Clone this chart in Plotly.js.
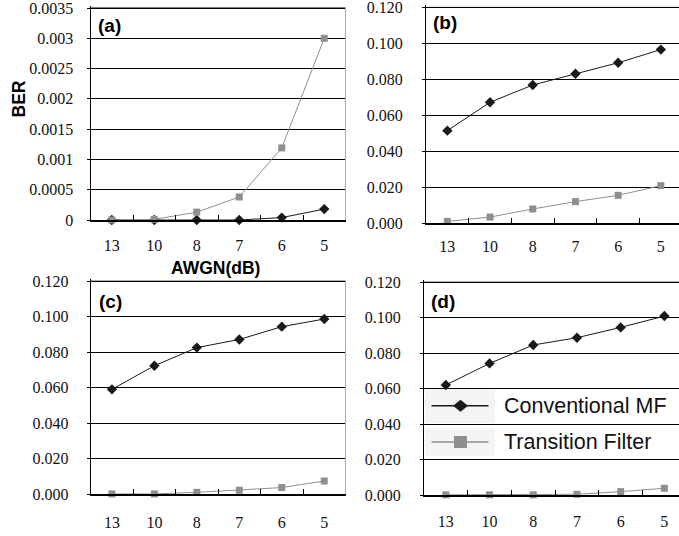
<!DOCTYPE html>
<html>
<head>
<meta charset="utf-8">
<script src="https://cdn.plot.ly/plotly-3.0.1.min.js"></script>
<style>html,body{margin:0;padding:0;background:#fff;}#chart{width:679px;height:536px;}</style>
</head>
<body>
<div id="chart"></div>
<script>
// ---- data ----
const categories = ["13", "10", "8", "7", "6", "5"];
const seriesNames = ["Conventional MF", "Transition Filter"];
const panelLabels = ["(a)", "(b)", "(c)", "(d)"];

const convA = [0, 0, 0, 0, 0.00004, 0.00018];
const transA = [0, 0.00001, 0.00013, 0.00038, 0.00119, 0.0030];
const convB = [0.0514, 0.0672, 0.0768, 0.0831, 0.0892, 0.0965];
const transB = [0.0009, 0.0033, 0.0078, 0.0119, 0.0154, 0.0208];
const convC = [0.0591, 0.0724, 0.0826, 0.0872, 0.0944, 0.0987];
const transC = [0.0002, 0.0002, 0.0011, 0.0023, 0.0038, 0.0075];
const convD = [0.0620, 0.0742, 0.0846, 0.0887, 0.0945, 0.1009];
const transD = [0.0001, 0.0001, 0.0001, 0.0004, 0.0019, 0.0038];

const yTicksA = [0, 0.0005, 0.001, 0.0015, 0.002, 0.0025, 0.003, 0.0035];
const yTickTextA = ["0", "0.0005", "0.001", "0.0015", "0.002", "0.0025", "0.003", "0.0035"];
const yTicksBCD = [0, 0.02, 0.04, 0.06, 0.08, 0.10, 0.12];
const yTickTextBCD = ["0.000", "0.020", "0.040", "0.060", "0.080", "0.100", "0.120"];

const xTitle = "AWGN(dB)";
const yTitle = "BER";

// ---- build ----
const W = 679, H = 536;
const px = v => v / W;
const py = v => 1 - v / H;

const convColor = "#1a1a1a";
const transColor = "#8f8f8f";

const panelsConv = [convA, convB, convC, convD];
const panelsTrans = [transA, transB, transC, transD];

const traces = [];
for (let i = 0; i < 4; i++) {
  const sfx = i === 0 ? "" : String(i + 1);
  traces.push({
    x: categories, y: panelsConv[i], type: "scatter", mode: "lines+markers",
    name: seriesNames[0], xaxis: "x" + sfx, yaxis: "y" + sfx, showlegend: false,
    line: {color: convColor, width: 1}, marker: {symbol: "diamond", size: 8, color: convColor},
    cliponaxis: false
  });
  traces.push({
    x: categories, y: panelsTrans[i], type: "scatter", mode: "lines+markers",
    name: seriesNames[1], xaxis: "x" + sfx, yaxis: "y" + sfx, showlegend: false,
    line: {color: transColor, width: 1}, marker: {symbol: "square", size: 7, color: transColor},
    cliponaxis: false
  });
}

const tickFont = {family: "Liberation Serif, Times New Roman, serif", size: 16, color: "#111"};

function xAxis(dom, rmax, anchor, standoff) {
  return {
    type: "category", domain: dom, range: [-0.5, rmax], fixedrange: true, anchor: anchor,
    showline: true, linecolor: "#000", linewidth: 1.5, showgrid: false, zeroline: false,
    ticks: "inside", tickson: "boundaries", ticklen: 5, tickcolor: "#000", tickwidth: 1,
    tickfont: tickFont, ticklabelstandoff: standoff, ticklabeloverflow: "allow"
  };
}
// yBottom/yTop: pixel rows of the lowest and highest tick; the plot area is
// extended 2px above the top tick so the top gridline is drawn.
function yAxis(yBottom, yTop, vmax, vals, txt, anchor, standoff) {
  const ext = 2;
  const span = yBottom - yTop;
  return {
    domain: [py(yBottom), py(yTop - ext)], range: [0, vmax * (span + ext) / span], fixedrange: true, anchor: anchor,
    tickmode: "array", tickvals: vals, ticktext: txt,
    showline: true, linecolor: "#000", linewidth: 1, showgrid: true, gridcolor: "#000", gridwidth: 1,
    zeroline: false, ticks: "outside", ticklen: 3, tickcolor: "#000",
    tickfont: tickFont, ticklabelstandoff: standoff, ticklabeloverflow: "allow"
  };
}

const layout = {
  width: W, height: H, margin: {l: 0, r: 0, t: 0, b: 0}, paper_bgcolor: "#fff", plot_bgcolor: "rgba(0,0,0,0)",
  showlegend: false,
  xaxis: xAxis([px(90.5), px(345.5)], 5.5, "y", 10),
  yaxis: yAxis(220, 8, 0.0035, yTicksA, yTickTextA, "x", 10),
  xaxis2: xAxis([px(426), 1], 5.425, "y2", 8),
  yaxis2: yAxis(223, 7.4, 0.12, yTicksBCD, yTickTextBCD, "x2", 16),
  xaxis3: xAxis([px(90.7), px(345.5)], 5.5, "y3", 13),
  yaxis3: yAxis(494.3, 281.2, 0.12, yTicksBCD, yTickTextBCD, "x3", 15),
  xaxis4: xAxis([px(424), 1], 5.335, "y4", 11),
  yaxis4: yAxis(495, 282.2, 0.12, yTicksBCD, yTickTextBCD, "x4", 16),
  annotations: [],
  shapes: []
};

// top frame line at the highest tick of each panel
const topVals = [yTicksA[yTicksA.length - 1], 0.12, 0.12, 0.12];
["", "2", "3", "4"].forEach((s, i) => {
  layout.shapes.push({type: "line", xref: "x" + s + " domain", yref: "y" + s, x0: 0, x1: 1,
    y0: topVals[i], y1: topVals[i], line: {color: "#000", width: 1}});
});

// panel labels
const labelPos = [[96, 25.5], [431, 23], [97, 301.5], [428.5, 301.5]];
const boldSans = {family: "Liberation Sans, Arial, sans-serif", size: 19, color: "#000"};
panelLabels.forEach((t, i) => {
  layout.annotations.push({
    text: "<b>" + t + "</b>", xref: "paper", yref: "paper", x: px(labelPos[i][0]), y: py(labelPos[i][1]),
    xanchor: "left", yanchor: "middle", showarrow: false, font: boldSans
  });
});
// axis titles for panel (a)
layout.annotations.push({
  text: "<b>" + xTitle + "</b>", xref: "paper", yref: "paper", x: px(215.5), y: py(268),
  xanchor: "center", yanchor: "middle", showarrow: false,
  font: {family: "Liberation Sans, Arial, sans-serif", size: 17.5, color: "#000"}
});
layout.annotations.push({
  text: "<b>" + yTitle + "</b>", xref: "paper", yref: "paper", x: px(18.5), y: py(99),
  xanchor: "center", yanchor: "middle", showarrow: false, textangle: -90,
  font: {family: "Liberation Sans, Arial, sans-serif", size: 17.5, color: "#000"}
});

// right borders for the left-column panels
[[8, 220], [281.2, 494.3]].forEach(r => {
  layout.shapes.push({type: "line", xref: "paper", yref: "paper", x0: px(345.5), x1: px(345.5),
    y0: py(r[0]), y1: py(r[1]), line: {color: "#b0b0b0", width: 1}});
});

// legend (drawn inside panel d)
const legRows = [
  {y: 405.7, bg: [388.8, 423], color: convColor, lw: 1.5, sym: "diamond", name: seriesNames[0]},
  {y: 442, bg: [428, 455.5], color: transColor, lw: 1.5, sym: "square", name: seriesNames[1]}
];
legRows.forEach(r => {
  layout.shapes.push({type: "rect", xref: "paper", yref: "paper", x0: px(425), x1: px(495),
    y0: py(r.bg[1]), y1: py(r.bg[0]), fillcolor: "#f4f4f4", line: {width: 0}, layer: "below"});
  layout.shapes.push({type: "line", xref: "paper", yref: "paper", x0: px(431.5), x1: px(488.5),
    y0: py(r.y), y1: py(r.y), line: {color: r.color, width: r.lw}});
  const cx = 460.5;
  let path;
  if (r.sym === "diamond") {
    path = `M${px(cx - 7.5)},${py(r.y)} L${px(cx)},${py(r.y - 6)} L${px(cx + 7.5)},${py(r.y)} L${px(cx)},${py(r.y + 6)} Z`;
  } else {
    path = `M${px(cx - 6.5)},${py(r.y - 6)} L${px(cx + 6.5)},${py(r.y - 6)} L${px(cx + 6.5)},${py(r.y + 6)} L${px(cx - 6.5)},${py(r.y + 6)} Z`;
  }
  layout.shapes.push({type: "path", xref: "paper", yref: "paper", path: path, fillcolor: r.color, line: {width: 0}});
  layout.annotations.push({
    text: r.name, xref: "paper", yref: "paper", x: px(502), y: py(r.y),
    xanchor: "left", yanchor: "middle", showarrow: false,
    font: {family: "Liberation Sans, Arial, sans-serif", size: 21.5, color: "#111"}
  });
});

Plotly.newPlot("chart", traces, layout, {staticPlot: true, displayModeBar: false});
</script>
</body>
</html>
